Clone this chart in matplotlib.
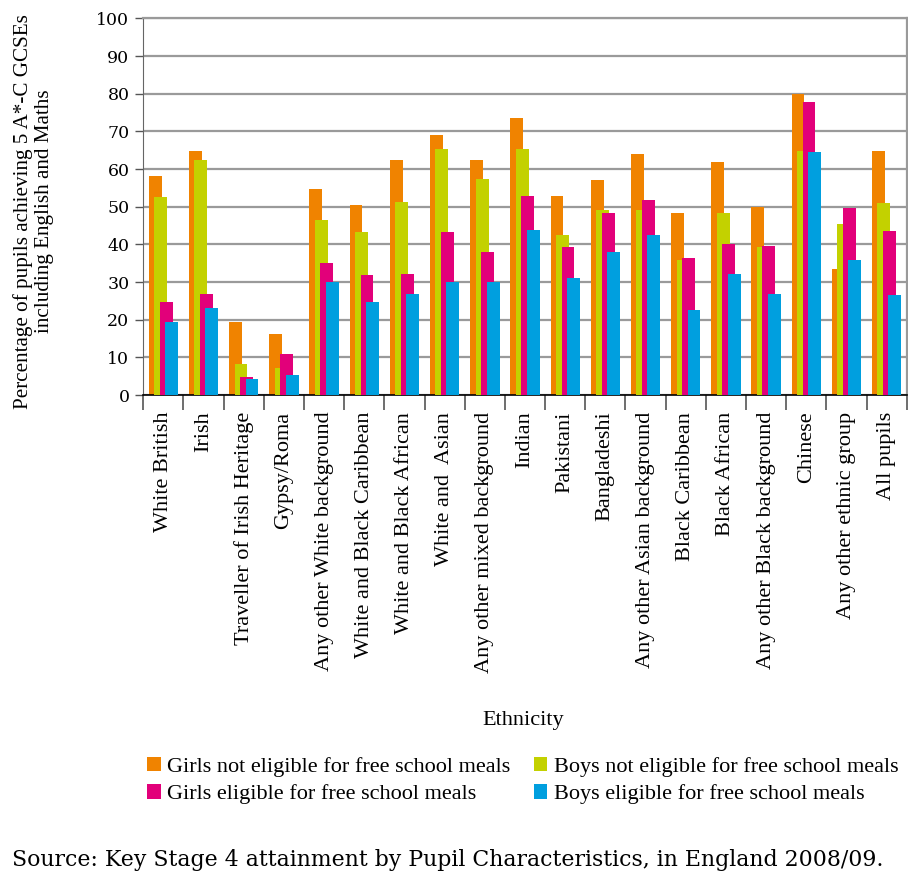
import numpy as np
import matplotlib.pyplot as plt
from matplotlib.patches import Patch

# Ethnic groups on the x axis
ethnicities = [
    'White British', 'Irish', 'Traveller of Irish Heritage', 'Gypsy/Roma',
    'Any other White background', 'White and Black Caribbean',
    'White and Black African', 'White and  Asian', 'Any other mixed background',
    'Indian', 'Pakistani', 'Bangladeshi', 'Any other Asian background',
    'Black Caribbean', 'Black African', 'Any other Black background',
    'Chinese', 'Any other ethnic group', 'All pupils',
]

# % achieving 5 A*-C GCSEs incl. English and Maths
girls_not_fsm = [58.2, 64.9, 19.5, 16.1, 54.6, 50.4, 62.4, 69.0, 62.4, 73.6,
                 52.9, 57.1, 64.1, 48.4, 61.9, 50.0, 79.8, 33.5, 64.9]
boys_not_fsm = [52.5, 62.4, 8.2, 7.1, 46.4, 43.4, 51.2, 65.3, 57.4, 65.3,
                42.6, 49.2, 49.2, 35.9, 48.4, 39.3, 64.9, 45.5, 50.9]
girls_fsm = [24.8, 26.9, 4.9, 10.8, 35.1, 31.8, 32.2, 43.4, 38.1, 52.9,
             39.3, 48.4, 51.7, 36.4, 40.1, 39.7, 77.7, 49.7, 43.5]
boys_fsm = [19.5, 23.2, 4.2, 5.4, 30.1, 24.8, 26.9, 30.1, 30.1, 43.8,
            31.0, 38.1, 42.6, 22.7, 32.2, 26.9, 64.5, 35.9, 26.5]

series_names = ['Girls not eligible for free school meals',
                'Boys not eligible for free school meals',
                'Girls eligible for free school meals',
                'Boys eligible for free school meals']
colors = ['#F08300', '#C3D100', '#E2007A', '#009FDF']

SERIF = ['DejaVu Serif']
TIMES = ['Liberation Serif']

fig = plt.figure(figsize=(9.08, 8.76), dpi=100)
ax = fig.add_axes([0.1578, 0.549, 0.8408, 0.430])

x = np.arange(len(ethnicities))
width = 0.32
step = 0.137
data = [girls_not_fsm, boys_not_fsm, girls_fsm, boys_fsm]
for k, (vals, col) in enumerate(zip(data, colors)):
    ax.bar(x + (k - 1.5) * step, vals, width, color=col, zorder=2 + k)

ax.set_xlim(-0.5, len(ethnicities) - 0.5)
ax.set_ylim(0, 100)
ax.set_yticks(np.arange(0, 101, 10))
ax.set_yticklabels([str(v) for v in range(0, 101, 10)], family=SERIF, fontsize=12.5)
ax.yaxis.grid(True, color='#9a9a9a', linewidth=1.6, zorder=0)
ax.set_axisbelow(True)
ax.tick_params(axis='y', length=6, width=1, color='#555555', pad=4)

# category labels between boundary ticks
ax.set_xticks(x)
ax.set_xticklabels(ethnicities, rotation=90, family=TIMES, fontsize=16)
ax.tick_params(axis='x', length=0, pad=12)
ax.set_xticks(np.arange(-0.5, len(ethnicities)), minor=True)
ax.tick_params(axis='x', which='minor', length=11, width=1.2, color='#555555')

for side in ['top', 'right']:
    ax.spines[side].set_color('#9a9a9a')
    ax.spines[side].set_linewidth(1.6)
ax.spines['left'].set_color('#666666')
ax.spines['bottom'].set_color('black')
ax.spines['bottom'].set_linewidth(1.2)

fig.text(0.037, 0.759, 'Percentage of pupils achieving 5 A*-C GCSEs\nincluding English and Maths',
         rotation=90, ha='center', va='center', family=TIMES, fontsize=15.2, linespacing=1.15)
fig.text(0.576, 0.178, 'Ethnicity', ha='center', va='center', family=TIMES, fontsize=16)

# row-wise legend order: girls/boys not eligible, then girls/boys eligible
order = [0, 2, 1, 3]
handles = [Patch(facecolor=colors[i], edgecolor='none') for i in order]
labels = [series_names[i] for i in order]
fig.legend(handles, labels, ncol=2, loc='center', bbox_to_anchor=(0.576, 0.109),
           frameon=False, prop={'family': TIMES, 'size': 16}, handlelength=0.6,
           handleheight=0.6, handletextpad=0.3, columnspacing=1.05, labelspacing=0.35)

fig.text(0.013, 0.018, 'Source: Key Stage 4 attainment by Pupil Characteristics, in England 2008/09.',
         ha='left', va='center', family=SERIF, fontsize=15.85)

fig.savefig('out.png', dpi=100)
